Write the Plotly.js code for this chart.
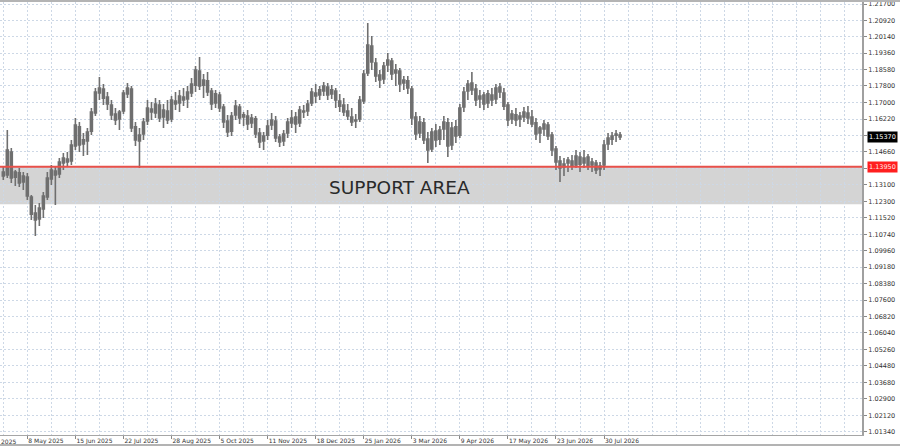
<!DOCTYPE html>
<html>
<head>
<meta charset="utf-8">
<script src="https://cdn.plot.ly/plotly-3.0.1.min.js"></script>
<style>
html,body{margin:0;padding:0;background:#fff;}
#chart{width:900px;height:446px;}
</style>
</head>
<body>
<div id="chart"></div>
<script>
// ---- data (daily candles) ----
const openP = [
1.1370,1.1356,1.1465,1.1346,1.1366,1.1323,1.1346,1.1251,1.1175,1.1147,
1.1194,1.1251,1.1337,1.1375,1.1361,1.1413,1.1432,1.1423,1.1494,1.1585,
1.1504,1.1518,1.1565,1.1651,1.1746,1.1765,1.1727,1.1689,1.1646,1.1623,
1.1661,1.1742,1.1765,1.1585,1.1518,1.1551,1.1613,1.1670,1.1651,1.1689,
1.1632,1.1661,1.1623,1.1708,1.1699,1.1727,1.1718,1.1746,1.1784,1.1851,
1.1784,1.1804,1.1756,1.1699,1.1737,1.1680,1.1613,1.1565,1.1642,1.1680,
1.1632,1.1637,1.1604,1.1623,1.1556,1.1518,1.1546,1.1594,1.1613,1.1537,
1.1518,1.1556,1.1604,1.1632,1.1604,1.1661,1.1661,1.1699,1.1746,1.1737,
1.1756,1.1775,1.1742,1.1756,1.1708,1.1689,1.1661,1.1632,1.1613,1.1623,
1.1708,1.1842,1.1970,1.1889,1.1832,1.1813,1.1880,1.1899,1.1842,1.1851,
1.1794,1.1804,1.1765,1.1632,1.1556,1.1604,1.1527,1.1480,1.1565,1.1527,
1.1575,1.1604,1.1499,1.1585,1.1546,1.1680,1.1756,1.1794,1.1765,1.1718,
1.1737,1.1699,1.1737,1.1718,1.1775,1.1746,1.1689,1.1623,1.1642,1.1623,
1.1632,1.1651,1.1632,1.1604,1.1556,1.1575,1.1594,1.1546,1.1480,1.1423,
1.1394,1.1413,1.1423,1.1404,1.1442,1.1413,1.1442,1.1404,1.1413,1.1385,
1.1404,1.1504,1.1527,1.1546,1.1546];
const highP = [
1.1399,1.1570,1.1485,1.1380,1.1389,1.1370,1.1366,1.1261,1.1213,1.1223,
1.1275,1.1370,1.1404,1.1399,1.1437,1.1461,1.1465,1.1523,1.1627,1.1608,
1.1556,1.1580,1.1675,1.1770,1.1822,1.1789,1.1751,1.1713,1.1675,1.1665,
1.1761,1.1794,1.1780,1.1608,1.1580,1.1627,1.1713,1.1704,1.1722,1.1713,
1.1694,1.1713,1.1732,1.1751,1.1761,1.1770,1.1780,1.1818,1.1875,1.1918,
1.1837,1.1846,1.1770,1.1761,1.1751,1.1694,1.1642,1.1656,1.1713,1.1694,
1.1656,1.1665,1.1646,1.1637,1.1580,1.1561,1.1618,1.1651,1.1637,1.1551,
1.1570,1.1627,1.1665,1.1656,1.1684,1.1689,1.1713,1.1770,1.1789,1.1780,
1.1799,1.1794,1.1784,1.1770,1.1742,1.1722,1.1694,1.1675,1.1646,1.1732,
1.1856,1.2080,1.2018,1.1913,1.1856,1.1894,1.1937,1.1913,1.1884,1.1865,
1.1827,1.1827,1.1780,1.1656,1.1637,1.1627,1.1561,1.1580,1.1599,1.1589,
1.1637,1.1627,1.1608,1.1618,1.1694,1.1775,1.1808,1.1846,1.1789,1.1761,
1.1751,1.1761,1.1770,1.1789,1.1794,1.1770,1.1704,1.1665,1.1675,1.1656,
1.1680,1.1684,1.1665,1.1627,1.1589,1.1618,1.1608,1.1561,1.1494,1.1446,
1.1437,1.1442,1.1451,1.1475,1.1465,1.1475,1.1456,1.1437,1.1427,1.1418,
1.1523,1.1556,1.1561,1.1570,1.1561];
const lowP = [
1.1332,1.1342,1.1318,1.1304,1.1299,1.1285,1.1237,1.1142,1.1066,1.1113,
1.1151,1.1237,1.1308,1.1213,1.1342,1.1380,1.1399,1.1404,1.1475,1.1465,
1.1446,1.1451,1.1546,1.1637,1.1713,1.1689,1.1665,1.1618,1.1594,1.1570,
1.1646,1.1722,1.1561,1.1494,1.1389,1.1523,1.1594,1.1618,1.1627,1.1608,
1.1580,1.1599,1.1608,1.1665,1.1656,1.1684,1.1675,1.1727,1.1751,1.1761,
1.1722,1.1732,1.1665,1.1675,1.1656,1.1580,1.1537,1.1542,1.1618,1.1599,
1.1589,1.1570,1.1580,1.1532,1.1485,1.1475,1.1523,1.1570,1.1513,1.1489,
1.1494,1.1532,1.1580,1.1556,1.1585,1.1627,1.1637,1.1684,1.1699,1.1713,
1.1732,1.1713,1.1718,1.1675,1.1656,1.1637,1.1618,1.1589,1.1580,1.1608,
1.1694,1.1827,1.1856,1.1799,1.1770,1.1789,1.1846,1.1808,1.1780,1.1751,
1.1761,1.1742,1.1594,1.1523,1.1532,1.1504,1.1413,1.1465,1.1489,1.1499,
1.1523,1.1442,1.1475,1.1508,1.1532,1.1656,1.1713,1.1737,1.1684,1.1675,
1.1665,1.1675,1.1684,1.1694,1.1722,1.1665,1.1589,1.1599,1.1589,1.1585,
1.1608,1.1599,1.1585,1.1523,1.1508,1.1542,1.1523,1.1446,1.1380,1.1323,
1.1351,1.1370,1.1380,1.1389,1.1370,1.1389,1.1380,1.1370,1.1361,1.1351,
1.1380,1.1475,1.1499,1.1513,1.1523];
const closeP = [
1.1351,1.1475,1.1342,1.1370,1.1318,1.1351,1.1256,1.1170,1.1142,1.1199,
1.1256,1.1342,1.1380,1.1356,1.1418,1.1437,1.1418,1.1499,1.1594,1.1499,
1.1523,1.1561,1.1656,1.1751,1.1770,1.1722,1.1694,1.1642,1.1618,1.1656,
1.1746,1.1770,1.1580,1.1523,1.1546,1.1608,1.1675,1.1656,1.1694,1.1627,
1.1665,1.1618,1.1713,1.1694,1.1732,1.1713,1.1751,1.1789,1.1856,1.1780,
1.1808,1.1751,1.1694,1.1742,1.1675,1.1608,1.1561,1.1637,1.1684,1.1627,
1.1642,1.1599,1.1627,1.1551,1.1513,1.1542,1.1589,1.1618,1.1532,1.1513,
1.1551,1.1608,1.1627,1.1599,1.1665,1.1656,1.1694,1.1751,1.1732,1.1761,
1.1780,1.1737,1.1761,1.1713,1.1684,1.1656,1.1637,1.1608,1.1618,1.1713,
1.1837,1.1975,1.1894,1.1827,1.1808,1.1875,1.1903,1.1837,1.1856,1.1789,
1.1808,1.1770,1.1627,1.1551,1.1608,1.1523,1.1475,1.1561,1.1523,1.1570,
1.1608,1.1494,1.1580,1.1542,1.1675,1.1751,1.1789,1.1761,1.1713,1.1732,
1.1694,1.1742,1.1713,1.1770,1.1751,1.1684,1.1618,1.1646,1.1618,1.1637,
1.1656,1.1627,1.1599,1.1551,1.1580,1.1599,1.1542,1.1475,1.1418,1.1389,
1.1408,1.1427,1.1399,1.1446,1.1408,1.1437,1.1399,1.1418,1.1380,1.1399,
1.1499,1.1532,1.1542,1.1551,1.1537];

// date labels and the bar index each one belongs to
const dateLabels = ["1 Apr 2025","8 May 2025","15 Jun 2025","22 Jul 2025","28 Aug 2025","5 Oct 2025",
  "11 Nov 2025","18 Dec 2025","25 Jan 2026","3 Mar 2026","9 Apr 2026","17 May 2026","23 Jun 2026","30 Jul 2026"];
const dateBars = [-6,6,18,30,42,54,66,78,90,102,114,126,138,150];

// price scale labels
const priceLabels = ["1.21700","1.20920","1.20140","1.19360","1.18580","1.17800","1.17000","1.16220",
  "1.15440","1.14660","1.13880","1.13100","1.12300","1.11520","1.10740","1.09960","1.09180","1.08380",
  "1.07600","1.06820","1.06040","1.05260","1.04480","1.03680","1.02900","1.02120","1.01340"];

// support zone
const supportTop = 1.1395;
const supportBottom = 1.1217;
const supportText = "SUPPORT AREA";

// ---- build ----
const idx = openP.map((_, i) => i);
const xRange = [-0.824, 214.41];
const yRange = [1.01184, 1.21795];
const gridCol = '#cdd8e6';
const candleCol = '#6f6f6f';

const trace = {
  type: 'candlestick',
  x: idx, open: openP, high: highP, low: lowP, close: closeP,
  increasing: {line: {color: candleCol, width: 1.6}, fillcolor: candleCol},
  decreasing: {line: {color: candleCol, width: 1.6}, fillcolor: candleCol},
  whiskerwidth: 0,
  hoverinfo: 'skip',
  showlegend: false
};

const visibleBars = dateBars.filter(b => b >= xRange[0]);
const visibleLabels = dateLabels.filter((_, k) => dateBars[k] >= xRange[0]);

const annotations = [
  {xref: 'paper', yref: 'paper', x: 0.4635, y: 0.571, xanchor: 'center', yanchor: 'middle',
   text: supportText, showarrow: false,
   font: {family: 'DejaVu Sans', size: 18.5, color: '#2a2a2a'}},
  {xref: 'paper', yref: 'y', x: 1, y: closeP[closeP.length - 1], xanchor: 'left', yanchor: 'middle',
   xshift: 5, text: closeP[closeP.length - 1].toFixed(5), showarrow: false,
   bgcolor: '#000000', borderpad: 1,
   font: {family: 'DejaVu Sans', size: 6.5, color: '#ffffff'}},
  {xref: 'paper', yref: 'y', x: 1, y: supportTop, xanchor: 'left', yanchor: 'middle',
   xshift: 5, text: supportTop.toFixed(5), showarrow: false,
   bgcolor: '#ff1f1f', borderpad: 1,
   font: {family: 'DejaVu Sans', size: 6.5, color: '#ffe8e8'}}
];
// labels whose bar is left of the visible range are shown cut at the edge
dateBars.forEach((b, k) => {
  if (b < xRange[0]) {
    annotations.push({xref: 'paper', yref: 'paper',
      x: (b - xRange[0]) / (xRange[1] - xRange[0]), y: 0, yanchor: 'top', xanchor: 'left',
      xshift: 2, yshift: -1, text: dateLabels[k], showarrow: false,
      font: {family: 'DejaVu Sans', size: 6, color: '#333'}});
  }
});

const layout = {
  width: 900, height: 446,
  margin: {l: 0, r: 38, t: 2, b: 11, pad: 0},
  paper_bgcolor: '#ffffff', plot_bgcolor: '#ffffff',
  showlegend: false,
  xaxis: {
    type: 'linear', range: xRange, fixedrange: true,
    rangeslider: {visible: false},
    tickmode: 'array', tickvals: visibleBars, ticktext: visibleLabels,
    ticklabelposition: 'outside right',
    ticks: 'outside', ticklen: 3, tickcolor: '#888', tickwidth: 1,
    tickfont: {family: 'DejaVu Sans', size: 6, color: '#333'},
    showline: true, linecolor: '#a6a6a6', linewidth: 1,
    showgrid: true, gridcolor: gridCol, gridwidth: 1, griddash: '2px,2px',
    minor: {tickmode: 'linear', tick0: 0, dtick: 6, showgrid: true, gridcolor: gridCol,
            gridwidth: 1, griddash: '2px,2px', ticks: ''},
    zeroline: false
  },
  yaxis: {
    side: 'right', range: yRange, fixedrange: true,
    tickmode: 'array', tickvals: priceLabels.map(Number), ticktext: priceLabels,
    ticks: 'outside', ticklen: 3, tickcolor: '#888',
    tickfont: {family: 'DejaVu Sans', size: 6.5, color: '#333'},
    showline: true, linecolor: '#a0a0a0', linewidth: 2,
    showgrid: true, gridcolor: gridCol, gridwidth: 1, griddash: '2px,2px',
    zeroline: false
  },
  shapes: [
    {type: 'rect', xref: 'paper', yref: 'y', x0: 0, x1: 1, y0: supportBottom, y1: supportTop,
     fillcolor: '#d4d4d4', line: {width: 0}, layer: 'below'},
    {type: 'line', xref: 'paper', yref: 'y', x0: 0, x1: 1, y0: supportTop, y1: supportTop,
     line: {color: '#e8504a', width: 2}, layer: 'above'},
    {type: 'line', xref: 'paper', yref: 'paper', x0: 0, x1: 900 / 862, y0: 1 + 1 / 433, y1: 1 + 1 / 433,
     line: {color: '#b4b4b4', width: 2}},
    {type: 'line', xref: 'paper', yref: 'paper', x0: 0, x1: 900 / 862, y0: -10 / 433, y1: -10 / 433,
     line: {color: '#9a9a9a', width: 1.5}}
  ],
  annotations: annotations
};

Plotly.newPlot('chart', [trace], layout, {displayModeBar: false, staticPlot: true});
</script>
</body>
</html>
